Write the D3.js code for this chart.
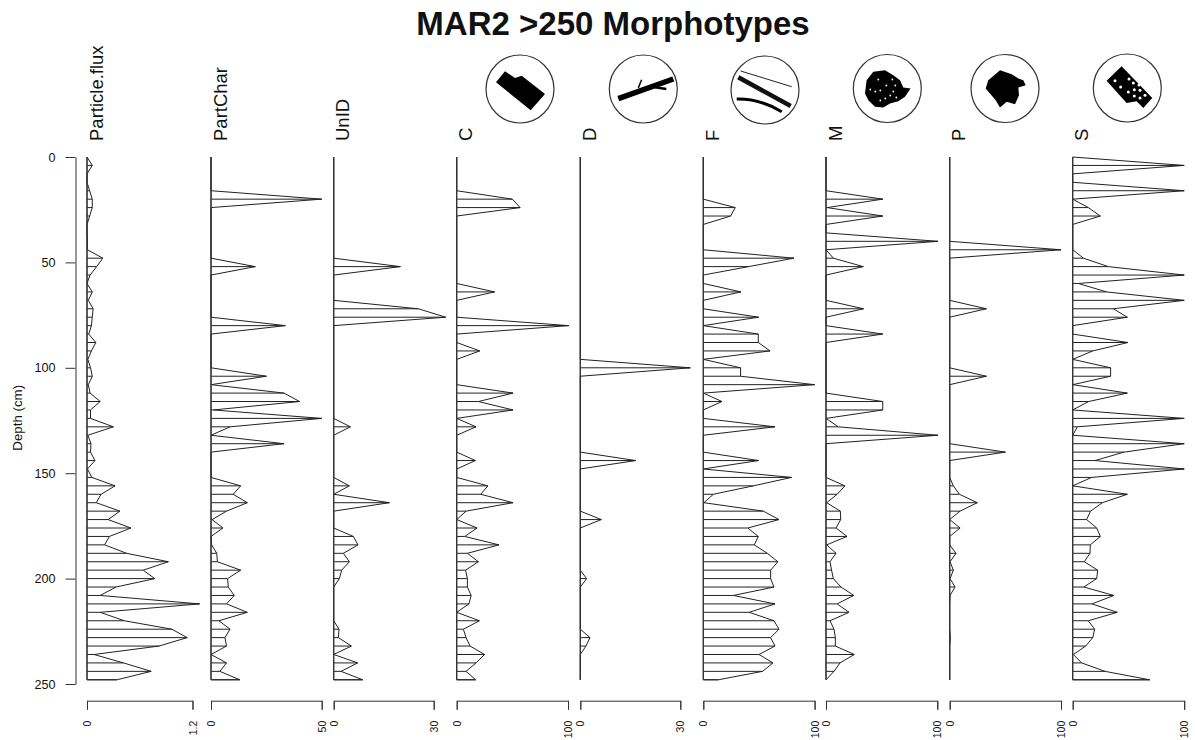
<!DOCTYPE html>
<html lang="en">
<head>
<meta charset="utf-8">
<title>MAR2 >250 Morphotypes</title>
<script src="https://d3js.org/d3.v7.min.js"></script>
<style>
  body { margin: 0; background: #fff; }
  text { font-family: "Liberation Sans", Arial, sans-serif; fill: #111; }
</style>
</head>
<body>
<script>
const depth = [0,4,8,12,16,20,24,28,32,36,40,44,48,52,56,60,64,68,72,76,80,84,88,92,96,100,104,108,112,116,
  120,124,128,132,136,140,144,148,152,156,160,164,168,172,176,180,184,188,192,196,200,204,208,212,216,220,
  224,228,232,236,240,244,248]

const particleFlux = [0,.06,0,0,.03,.06,.06,.03,0,0,
  .005,.005,.18,.11,.035,0,.06,.015,.07,.06,
  .05,.02,.1,.05,.01,.04,.06,.015,.035,.15,
  .04,.04,.3,.01,.045,.04,.09,.005,.055,.32,
  .16,.105,.375,.24,.5,.255,.2,.45,.925,.64,
  .77,.33,.15,1.28,.15,.425,.965,1.14,.82,.08,
  .415,.73,.34]
const partChar = [0,0,0,0,0,50,0,0,0,0,
  0,0,0,20,0,0,0,0,0,0,
  33.6,0,0,0,0,0,25,0,33,40,
  1,50,8.6,0,33,0,0,0,0,13.4,
  10,16.4,7,.5,5.4,0,.3,2.6,2.9,13.4,
  7.5,7.8,10.5,7,16.4,3.6,8.6,6.3,7,0,
  7,4,13]
const unID = [0,0,0,0,0,0,0,0,0,0,
  0,0,0,20,0,0,0,0,25.4,33.6,
  0,0,0,0,0,0,0,0,0,0,
  0,0,5,0,0,0,0,0,0,4.7,
  0,16.7,0,0,0,5.9,7.3,2.9,4.7,2.4,
  1.7,0,0,0,0,0,1.6,1.4,5.3,0,
  7.2,2.2,8.7]
const cVals = [0,0,0,0,0,50,57,0,0,0,
  0,0,0,0,0,0,34,0,0,0,
  100.6,0,0,20.7,0,0,0,0,50.6,19.5,
  50.6,0,17.4,0,0,0,16.8,0,0,28,
  21.6,50.6,8.4,0,18.3,7.2,38,9.6,19.5,8,
  9.6,9.6,13,11,0,20.4,6,8.4,12,25,
  17.4,8.4,17]
const dVals = [0,0,0,0,0,0,0,0,0,0,
  0,0,0,0,0,0,0,0,0,0,
  0,0,0,0,0,33,0,0,0,0,
  0,0,0,0,0,0,16.6,0,0,0,
  0,0,0,6.3,0,0,0,0,0,0,
  1.9,0,0,0,0,0,0,2.9,1.7,0,
  0,0,0]
const fVals = [0,0,0,0,0,0,28.7,24.6,0,0,
  0,0,81.4,40.7,0,0,33.8,0,0,49.7,
  0,49.4,49.4,60,0,33.5,33.5,100,0,16.8,
  0,0,64.4,0,0,0,49.7,0,79.3,45,
  9,.6,54,68,40,49.4,45.8,57.5,67,60.5,
  60.5,63.5,27,64.4,41.3,63.5,68,60.5,64.4,50,
  62.6,53.3,13.5]
const mVals = [0,0,0,0,0,51,1,51,0,0,
  100.6,0,6.6,33.5,0,0,0,0,33.8,0,
  0,51,0,0,0,0,0,0,0,51,
  51,0,11,100.6,0,0,0,0,0,17,
  10,.6,12.9,13.2,9,18.9,.6,9,3.6,5,
  6.6,13.5,25,10,20.7,3.6,7.2,8.4,8.4,25.4,
  12.6,7.2,0]
const pVals = [0,0,0,0,0,0,0,0,0,0,
  0,100,0,0,0,0,0,0,33,0,
  0,0,0,0,0,0,33,0,0,0,
  0,0,0,0,0,50,0,0,0,3.3,
  8.7,24.8,9.3,0,9.3,0,0,5.7,.3,3.3,
  .3,4.8,.3,0,0,0,0,.6,0,0,
  0,0,0]
const sVals = [0,100,0,0,100,0,14,24.8,0,0,
  0,0,9.6,32,100,5,30.4,100,36.4,49,
  0,0,49.6,18,0,34,34,0,49,14.3,
  0,100,4.2,0,100,46,20,100,17,0,
  49,26.6,16,12.5,21.5,24.8,15.8,15.5,10.4,22.4,
  21.5,10,37,17.3,40,14,19.7,18,11.6,.6,
  8,29,69]

const names = ["Particle.flux", "PartChar", "UnID", "C", "D", "F", "M", "P", "S"]
const series = [particleFlux, partChar, unID, cVals, dVals, fVals, mVals, pVals, sVals]
const axisMax = [1.2, 50, 30, 100, 30, 100, 100, 100, 100]
const depthTicks = [0, 50, 100, 150, 200, 250]

// panel layout in page pixels
const x0s = [87, 211, 333.7, 456.7, 580.3, 703.3, 826, 949.7, 1072.7]
const widths = [105.5, 110.7, 100, 111.3, 100, 111.3, 111.3, 111.3, 111.5]

const w = 1195, h = 740
const axisColor = "#333", lineColor = "#222"

const svg = d3.select("body").append("svg")
  .attr("width", w).attr("height", h)
  .style("display", "block")

svg.append("text").text("MAR2 >250 Morphotypes")
  .attr("x", 613).attr("y", 35)
  .attr("text-anchor", "middle")
  .attr("font-size", 33).attr("font-weight", "bold")

const y = d3.scaleLinear().domain([0, 250]).range([157, 684])

// depth axis
const yAxis = svg.append("g")
  .attr("transform", "translate(75.5,0)")
  .call(d3.axisLeft(y).tickValues(depthTicks).tickSize(10).tickSizeOuter(0).tickPadding(10))
yAxis.selectAll("text").attr("font-size", 12.6).style("font-family", "inherit")
yAxis.selectAll("path,line").attr("stroke", axisColor)

svg.append("text").text("Depth (cm)")
  .attr("transform", "translate(22,450.7) rotate(-90)")
  .attr("font-size", 13.3)

names.forEach((name, i) => {
  const x = d3.scaleLinear().domain([0, axisMax[i]]).range([x0s[i], x0s[i] + widths[i]])
  const vals = series[i]
  const g = svg.append("g")

  // bars
  g.selectAll("line.bar")
    .data(vals)
    .enter().append("line")
    .attr("class", "bar")
    .attr("x1", x(0))
    .attr("x2", (d) => x(d))
    .attr("y1", (d, k) => y(depth[k]))
    .attr("y2", (d, k) => y(depth[k]))
    .attr("stroke", lineColor)

  // outline, the baseline doubles as the panel's axis
  const area = d3.area()
    .x0(x(0))
    .x1((d) => x(d))
    .y((d, k) => y(depth[k]))
  g.append("path")
    .attr("d", area(vals))
    .attr("fill", "none")
    .attr("stroke", lineColor)

  g.append("line")
    .attr("x1", x(0)).attr("x2", x(0))
    .attr("y1", y(0)).attr("y2", y(depth[depth.length - 1]))
    .attr("stroke", axisColor).attr("stroke-width", 1.2)

  // bottom axis with rotated labels
  const ax = svg.append("g")
    .attr("transform", "translate(0,700.7)")
    .call(d3.axisBottom(x).tickValues([0, axisMax[i]]).tickSize(9).tickFormat(d3.format("")))
  ax.selectAll("path,line").attr("stroke", axisColor)
  ax.selectAll("text")
    .attr("transform", "rotate(-90)")
    .attr("x", -20).attr("y", 0).attr("dy", ".35em")
    .attr("text-anchor", "end")
    .attr("font-size", 10.5)
    .style("font-family", "inherit")

  // panel name
  svg.append("text").text(name)
    .attr("transform", `translate(${x0s[i] + 15.5},141) rotate(-90)`)
    .attr("font-size", 18.5)
})

// morphotype icons, local coordinates around each circle centre
const icons = [
  { cx: 520, cy: 89, draw: (g) => {
    g.append("path").attr("d", "M-24,-6.7L-15,-17.7L-5,-11L1.7,-13.3L25,5L10.7,21.3Z").attr("fill", "#000")
  }},
  { cx: 643.3, cy: 89, draw: (g) => {
    g.append("path").attr("d", "M-25,9.7L30,-10").attr("stroke", "#000").attr("stroke-width", 5.5)
    g.append("path").attr("d", "M-5,-1L-1.7,-9.3").attr("stroke", "#000").attr("stroke-width", 1.5)
    g.append("path").attr("d", "M10,-2L23,0").attr("stroke", "#000").attr("stroke-width", 2.5)
  }},
  { cx: 765, cy: 90, draw: (g) => {
    g.append("path").attr("d", "M-24.3,-19L26.7,-3.3").attr("stroke", "#222").attr("stroke-width", 1)
    g.append("path").attr("d", "M-26.7,-12.7L25.7,16").attr("stroke", "#111").attr("stroke-width", 4.5)
    g.append("path").attr("d", "M-28.3,9Q-5,8.5 16.7,21.7").attr("fill", "none").attr("stroke", "#000").attr("stroke-width", 3)
  }},
  { cx: 887.3, cy: 88.5, draw: (g) => {
    g.append("path").attr("d", "M-14,-16.7L-2.3,-18.3L6,-13.3L12.7,-8.3L16,-1L23.3,0L17.7,8.3L11,12.7L2.7,15L-4,19L-12.3,18.3L-19,11.7L-22.3,5L-20.7,-8.3Z").attr("fill", "#000")
    const holes = [[5,-9],[-1,-3],[-7,2],[-17,1],[8,-3],[-12,3],[3,7],[9,9],[-2,10],[-7,12],[-9,-9],[6,3]]
    g.selectAll("circle.hole").data(holes).enter().append("circle")
      .attr("class", "hole").attr("cx", (d) => d[0]).attr("cy", (d) => d[1]).attr("r", 0.9).attr("fill", "#fff")
  }},
  { cx: 1005, cy: 88.5, draw: (g) => {
    g.append("path").attr("d", "M-5,-18.3L6.7,-14.3L13.3,-10L18.3,-8.3L20.7,-3.3L13.3,-1L14,6.7L10,15.7L1.7,13.3L-5,19L-9.3,11.7L-19.3,0L-16.7,-8.3Z").attr("fill", "#000")
  }},
  { cx: 1127.3, cy: 88, draw: (g) => {
    g.append("path").attr("d", "M-20.7,-7.3L-5.7,-21.7L25,10L16,20L9.3,13.3L-0.7,15Z").attr("fill", "#000")
    const holes = [[-12.3,-7.3],[-6.7,-1],[1.7,-9],[6,-5],[11.7,-3],[17.7,7.3],[1,4],[7,1.7],[12.7,2.3],[7,8],[12.7,10]]
    g.selectAll("circle.hole").data(holes).enter().append("circle")
      .attr("class", "hole").attr("cx", (d) => d[0]).attr("cy", (d) => d[1]).attr("r", 1.5).attr("fill", "#fff")
  }}
]

icons.forEach((ic) => {
  const g = svg.append("g").attr("transform", `translate(${ic.cx},${ic.cy})`)
  g.append("circle").attr("r", 34).attr("fill", "#fff").attr("stroke", "#333").attr("stroke-width", 1.2)
  ic.draw(g)
})
</script>
</body>
</html>
